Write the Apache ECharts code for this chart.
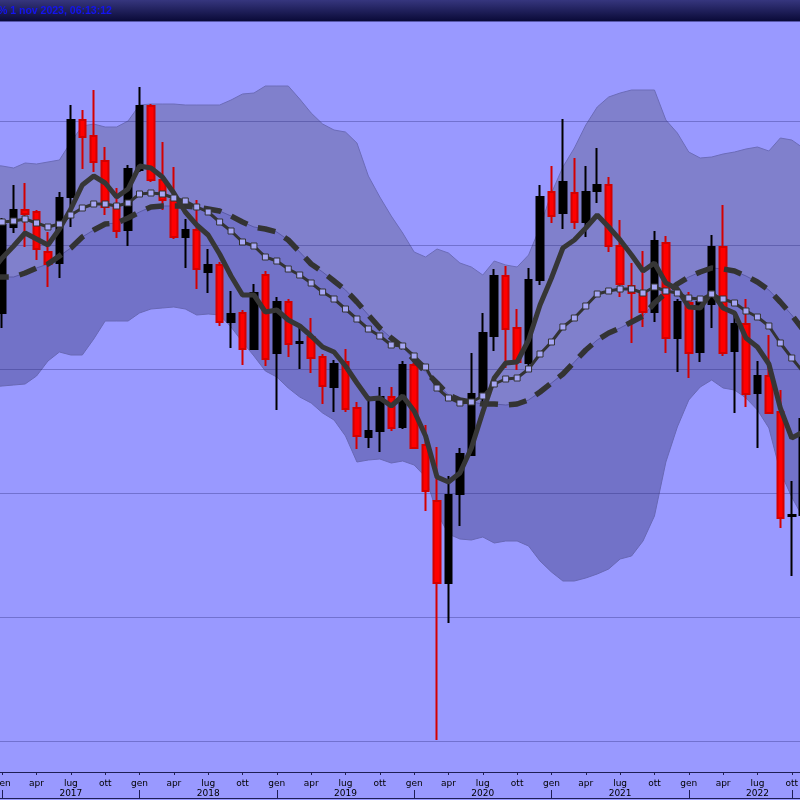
<!DOCTYPE html>
<html><head><meta charset="utf-8">
<script src="https://cdn.jsdelivr.net/npm/echarts@6/dist/echarts.min.js"></script>
<style>html,body{margin:0;padding:0;background:#9999ff;overflow:hidden}#c{width:800px;height:800px}</style>
</head><body><div id="c"></div>
<script>
// Month index: 0 = gen 2017; arrays below start at -1 (dic 2016) and end at 70 (nov 2022)
const monthAbbr = ['gen','feb','mar','apr','mag','giu','lug','ago','set','ott','nov','dic'];
const firstYear = 2017;
const startIndex = -1;

// Candles [open, close, low, high] from dic 2016
const candles = [null,
[487,575,472,582],[573,590,567,615],[590,586,553,617],[588,551,540,590],[548,536,513,568],[537,602,522,608],
[603,680,573,695],[680,663,631,690],[664,638,628,710],[639,593,585,653],[593,569,562,612],[570,631,554,635],
[630,694,628,713],[694,620,618,696],[620,600,590,658],[600,563,561,633],[563,570,532,581],[570,531,511,600],
[528,535,507,551],[535,478,474,538],[478,486,452,509],[487,451,435,490],[451,507,450,516],[525,441,434,529],
[447,498,390,503],[498,456,443,501],[457,458,431,472],[463,442,427,482],[443,414,396,446],[413,436,388,440],
[438,391,388,451],[392,364,351,398],[363,369,352,404],[369,403,348,413],[403,372,369,413],[373,435,371,439],
[435,352,351,437],[355,309,289,375],[299,217,60,353],[217,305,177,324],[306,346,274,352],[345,406,344,447],
[402,467,398,487],[464,524,449,531],[524,471,432,534],[472,438,430,491],[437,520,432,532],[520,603,515,615],
[608,584,577,634],[587,618,571,681],[607,578,571,642],[578,608,563,634],[609,615,597,652],[615,554,548,623],
[554,516,503,580],[514,507,457,537],[508,488,473,549],[488,559,478,569],[557,462,447,564],[462,498,428,501],
[497,447,422,508],[448,498,438,502],[496,553,472,565],[553,447,444,595],[449,476,387,487],[476,406,393,501],
[407,424,352,439],[424,387,387,465],[388,282,272,410],[284,285,224,319],[285,381,280,390]
];

const bandUpper = [635,
634,632,637,636,638,640,658,674,676,673,673,679,
695,696,696,696,695,695,695,695,700,706,707,714,
714,714,701,687,676,670,668,657,624,603,584,567,
548,543,551,547,537,533,525,539,535,533,545,573,
607,633,652,675,693,703,707,710,710,710,680,667,
648,642,643,646,648,651,653,649,662,660,652];
const bandMiddle = [523,
523,523,527,532,536,544,552,563,570,576,577,582,
588,593,594,594,594,593,591,589,584,578,573,571,
568,560,548,536,528,519,510,498,485,472,462,453,
440,428,417,405,400,398,396,396,395,396,400,408,
417,426,438,450,460,467,472,478,484,497,507,516,
523,528,532,531,529,524,518,510,498,485,470];
const bandLower = [413,
414,415,416,424,439,448,445,445,461,479,479,479,
487,491,492,493,491,485,486,485,473,458,444,429,
423,412,403,397,387,380,364,338,340,341,337,339,
335,323,287,266,261,260,263,257,259,259,254,239,
228,219,219,222,226,231,241,244,259,284,338,373,
400,413,420,412,410,402,390,372,328,303,282];
const maFast = [528,
542,554,567,561,555,571,591,615,624,617,603,611,
634,632,623,607,588,575,565,546,524,505,505,488,
490,480,474,464,453,448,434,417,401,402,394,404,
389,364,323,318,327,352,388,422,437,438,460,495,
522,552,560,572,585,573,560,545,529,537,517,511,
493,492,508,492,487,462,453,436,392,362,368];
const maMid = [577,
578,579,581,577,573,576,585,592,596,596,594,597,
606,607,606,602,599,593,588,578,569,558,554,543,
539,531,525,517,508,501,491,481,471,464,455,454,
444,433,412,402,397,398,404,416,421,422,431,446,
458,473,482,494,506,509,511,511,507,513,509,507,
502,501,506,501,497,489,483,474,457,442,428];
const gridValues = [59,183,307,431,555,679];
const headerText = '% 1 nov 2023, 06:13:12';

const pairs = arr => arr.map((v,k)=>[k+startIndex, v]);
const candleData = candles.map((c,k)=> c ? [k+startIndex].concat(c) : null).filter(Boolean);
const labelFor = v => { const m = ((v%12)+12)%12; const y = firstYear + Math.floor(v/12);
  return m===6 ? monthAbbr[m]+'\n'+y : monthAbbr[m]; };

const BG = '#9999ff';
const chart = echarts.init(document.getElementById('c'), null, {renderer:'canvas'});
const AX = '#1e1e55';
const onMain = {xAxisIndex:2, yAxisIndex:1};
chart.setOption({
  animation:false,
  backgroundColor:BG,
  grid:[
    {left:2.2, right:8.233, top:0, bottom:28, containLabel:false, outerBoundsMode:'none'},
    {left:0, right:0, top:0, bottom:28, containLabel:false, outerBoundsMode:'none'}
  ],
  xAxis:[{
    gridIndex:0, type:'value', min:0, max:69, interval:3,
    axisLine:{show:false},
    axisTick:{show:true, length:3, lineStyle:{color:AX}},
    axisLabel:{show:true, showMinLabel:true, showMaxLabel:true, formatter:labelFor, hideOverlap:false,
      fontFamily:'DejaVu Sans', fontSize:9, color:'#000', lineHeight:10, margin:7},
    splitLine:{show:false}
  },{
    gridIndex:0, type:'value', min:0, max:69, interval:12, position:'bottom', offset:26,
    axisLine:{show:false},
    axisTick:{show:true, inside:true, length:8, lineStyle:{color:AX}},
    axisLabel:{show:false}, splitLine:{show:false}
  },{
    gridIndex:1, type:'value', min:-0.19226, max:69.720,
    axisLine:{show:true, lineStyle:{color:AX, width:1}},
    axisTick:{show:false}, axisLabel:{show:false}, splitLine:{show:false}
  },{
    gridIndex:1, type:'value', min:-0.19226, max:69.720, position:'bottom', offset:26,
    axisLine:{show:true, lineStyle:{color:AX, width:1}},
    axisTick:{show:false}, axisLabel:{show:false}, splitLine:{show:false}
  }],
  yAxis:[
    {gridIndex:0, type:'value', min:28, max:800, show:false},
    {gridIndex:1, type:'value', min:28, max:800, show:false}
  ],
  series:[
    Object.assign({type:'line', data:pairs(bandUpper), symbol:'none', z:1,
      lineStyle:{width:1, color:'#6c6cb8'}, areaStyle:{color:'#8080cc', opacity:1, origin:'start'}}, onMain),
    Object.assign({type:'line', data:pairs(bandMiddle), symbol:'none', z:2,
      lineStyle:{width:1, color:'#5a5aa6'}, areaStyle:{color:'#7272c8', opacity:1, origin:'start'}}, onMain),
    Object.assign({type:'line', data:pairs(bandLower), symbol:'none', z:3,
      lineStyle:{width:1, color:'#6868b4'}, areaStyle:{color:BG, opacity:1, origin:'start'},
      markLine:{silent:true, symbol:'none', z:4, label:{show:false},
        lineStyle:{color:'rgba(40,40,120,0.35)', width:1, type:'solid'},
        data:gridValues.map(v=>({yAxis:v}))}}, onMain),
    Object.assign({type:'candlestick', data:candleData, barWidth:7, z:5,
      itemStyle:{color:'#000000', color0:'#ff0000', borderColor:'#000000', borderColor0:'#d40000', borderWidth:2}}, onMain),
    Object.assign({type:'line', data:pairs(bandMiddle), symbol:'none', z:6,
      lineStyle:{color:'#333333', width:5.5, type:[18,11]}}, onMain),
    Object.assign({type:'line', data:pairs(maFast), symbol:'none', z:6,
      lineStyle:{color:'#363636', width:5}}, onMain),
    Object.assign({type:'line', data:pairs(maMid), symbol:'rect', symbolSize:6, showSymbol:true, showAllSymbol:true, z:7,
      itemStyle:{color:'#a6a6f4', borderColor:'#333333', borderWidth:1},
      lineStyle:{color:'#333333', width:3}}, onMain)
  ],
  graphic:[
    {type:'rect', z:100, shape:{x:0,y:0,width:800,height:21},
      style:{fill:new echarts.graphic.LinearGradient(0,0,0,1,[{offset:0,color:'#36367e'},{offset:1,color:'#0a0a38'}])}},
    {type:'rect', z:100, shape:{x:0,y:21,width:800,height:1}, style:{fill:'#5656a8'}},
    {type:'text', z:101, left:-2, top:6, style:{text:headerText, fill:'#1414f0', font:'bold 10.5px "Liberation Sans", Arial, sans-serif'}}
  ]
});
</script></body></html>
